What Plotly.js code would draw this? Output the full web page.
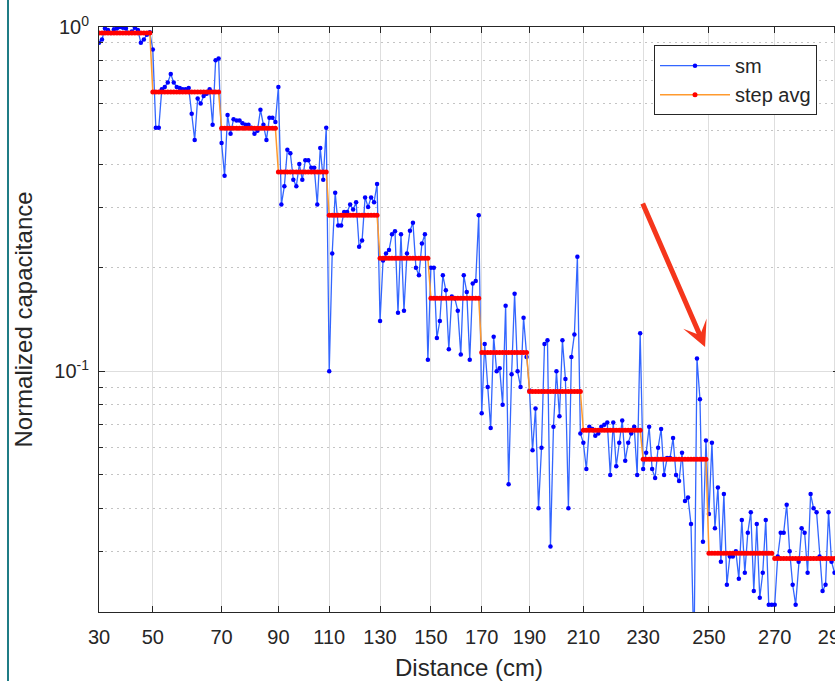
<!DOCTYPE html>
<html><head><meta charset="utf-8">
<script src="https://cdn.plot.ly/plotly-3.0.1.min.js"></script>
<style>
html,body{margin:0;padding:0;overflow:hidden;background:#fff;width:835px;height:681px}
#chart{position:absolute;left:0;top:0;width:870px;height:681px}
#frame{position:absolute;left:7px;top:0;width:2px;height:681px;background:#1f7c85;z-index:5}
</style>
</head><body>
<div id="chart"></div><div id="frame"></div>
<script>
// tick positions (sample index of each step start) and their distance labels
const tickIndex = [0, 18, 41, 60, 77, 94, 111, 128, 144, 162, 182, 204, 226, 246];
const tickLabels = ['30','50','70','90','110','130','150','170','190','210','230','250','270','290'];

// step average level per distance step
const stepLevels = [0.961, 0.647, 0.508, 0.379, 0.284, 0.213, 0.163, 0.1135, 0.0874, 0.0674, 0.0555, 0.0296, 0.0286];

// sm values, one per sample
const smValues = [
  // 30-50
  0.90, 0.92, 0.99, 0.98, 0.96, 0.985, 0.99, 1.0, 0.995, 0.99, 0.96, 0.97, 0.995, 0.98, 0.90, 0.92, 0.95, 0.965,
  // 50-70
  0.86, 0.51, 0.51, 0.66, 0.67, 0.69, 0.73, 0.69, 0.67, 0.665, 0.66, 0.66, 0.665, 0.56, 0.47, 0.62, 0.60, 0.63, 0.64, 0.66, 0.52, 0.80, 0.81,
  // 70-90
  0.46, 0.37, 0.555, 0.49, 0.54, 0.535, 0.535, 0.525, 0.52, 0.52, 0.51, 0.49, 0.50, 0.575, 0.52, 0.47, 0.545, 0.545, 0.53,
  // 90-110
  0.67, 0.305, 0.345, 0.44, 0.43, 0.36, 0.345, 0.40, 0.36, 0.41, 0.41, 0.39, 0.39, 0.305, 0.445, 0.36, 0.51,
  // 110-130
  0.10, 0.22, 0.33, 0.265, 0.265, 0.29, 0.29, 0.305, 0.295, 0.31, 0.23, 0.24, 0.32, 0.30, 0.32, 0.31, 0.35,
  // 130-150
  0.14, 0.21, 0.22, 0.225, 0.25, 0.255, 0.148, 0.25, 0.15, 0.22, 0.256, 0.27, 0.20, 0.19, 0.235, 0.25, 0.108,
  // 150-170
  0.20, 0.20, 0.125, 0.14, 0.19, 0.172, 0.116, 0.165, 0.163, 0.15, 0.112, 0.19, 0.17, 0.108, 0.18, 0.183, 0.284,
  // 170-190
  0.0755, 0.12, 0.09, 0.0685, 0.126, 0.10, 0.102, 0.08, 0.155, 0.047, 0.098, 0.168, 0.10, 0.09, 0.143, 0.11,
  // 190-210
  0.088, 0.059, 0.078, 0.04, 0.06, 0.12, 0.123, 0.031, 0.069, 0.10, 0.074, 0.123, 0.095, 0.04, 0.11, 0.128, 0.215, 0.066,
  // 210-230
  0.062, 0.052, 0.069, 0.068, 0.065, 0.066, 0.069, 0.07, 0.071, 0.05, 0.071, 0.053, 0.062, 0.072, 0.055, 0.062, 0.066, 0.069, 0.05, 0.129,
  // 230-250
  0.052, 0.058, 0.069, 0.052, 0.049, 0.06, 0.068, 0.05, 0.056, 0.056, 0.064, 0.05, 0.048, 0.058, 0.042, 0.043, 0.036, 0.015, 0.109, 0.083, 0.032, 0.063,
  // 250-270
  0.0385, 0.062, 0.035, 0.046, 0.028, 0.044, 0.024, 0.029, 0.029, 0.03, 0.025, 0.037, 0.026, 0.034, 0.039, 0.023, 0.036, 0.022, 0.026, 0.037, 0.021, 0.021,
  // 270-290
  0.021, 0.029, 0.034, 0.034, 0.041, 0.03, 0.024, 0.021, 0.028, 0.035, 0.034, 0.026, 0.044, 0.04, 0.039, 0.029, 0.023, 0.024, 0.039, 0.028, 0.026
];

const xIdx = smValues.map((_, i) => i);
const stepAvg = xIdx.map(i => {
  let k = 0;
  for (let s = 0; s < stepLevels.length; s++) if (i >= tickIndex[s]) k = s;
  return stepLevels[k];
});

const minorVals = [];
[0.01, 0.1].forEach(d => { for (let m = 2; m <= 9; m++) minorVals.push(+(m * d).toFixed(3)); });

const font = {family: 'Liberation Sans, Arial, Helvetica, sans-serif', color: '#262626'};

const traces = [
  {x: xIdx, y: smValues, name: 'sm', type: 'scatter', mode: 'lines+markers',
   line: {color: '#3366ff', width: 1.3}, marker: {color: '#0000ff', size: 4.5}},
  {x: xIdx, y: stepAvg, name: 'step avg', type: 'scatter', mode: 'lines+markers',
   line: {color: '#ff9a2e', width: 1.5}, marker: {color: '#ff0000', size: 5}}
];

const layout = {
  width: 870, height: 681,
  margin: {l: 99, r: 31, t: 27, b: 69},
  paper_bgcolor: '#fff', plot_bgcolor: '#fff',
  showlegend: true,
  legend: {x: 0.75, y: 0.969, xanchor: 'left', yanchor: 'top', bgcolor: '#fff', itemwidth: 70,
           bordercolor: '#262626', borderwidth: 1, font: Object.assign({size: 20}, font)},
  xaxis: {
    range: [0, 247.5], tickmode: 'array', tickvals: tickIndex, ticktext: tickLabels,
    ticklabeloverflow: 'allow',
    showgrid: true, gridcolor: '#dedede', gridwidth: 1, zeroline: false,
    ticks: 'inside', ticklen: 6, tickcolor: '#262626',
    showline: true, linecolor: '#262626', linewidth: 1, mirror: 'ticks',
    tickfont: Object.assign({size: 20}, font), ticklabelstandoff: 7,
    title: {text: 'Distance (cm)', font: Object.assign({size: 24}, font), standoff: 12}
  },
  yaxis: {
    type: 'log', range: [Math.log10(0.02), 0],
    tickmode: 'array', tickvals: [0.1, 1], ticktext: ['10<sup>-1</sup>', '10<sup>0</sup>'],
    showgrid: true, gridcolor: '#dedede', gridwidth: 1, zeroline: false,
    ticks: 'inside', ticklen: 6, tickcolor: '#262626',
    showline: true, linecolor: '#262626', linewidth: 1, mirror: 'ticks',
    tickfont: Object.assign({size: 20}, font), ticklabelstandoff: 5,
    minor: {tickmode: 'array', tickvals: minorVals, ticks: 'inside', ticklen: 4, tickcolor: '#262626',
            showgrid: true, gridcolor: '#c4c4c4', gridwidth: 1, griddash: '2px,4px'},
    title: {text: 'Normalized capacitance', font: Object.assign({size: 24}, font), standoff: 14}
  },
  annotations: [{
    xref: 'paper', yref: 'paper', x: 0.819, y: 0.453, text: '',
    showarrow: true, arrowhead: 3, arrowwidth: 5, arrowsize: 0.85, arrowcolor: '#f5361c',
    ax: -63, ay: -145, standoff: 0
  }]
};

Plotly.newPlot('chart', traces, layout, {displayModeBar: false, staticPlot: true});
</script>
</body></html>
